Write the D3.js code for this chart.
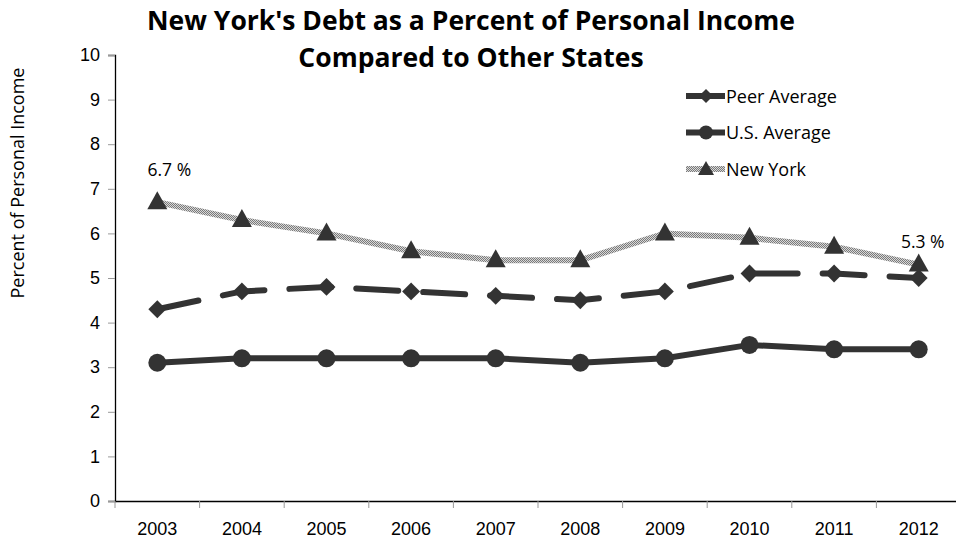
<!DOCTYPE html>
<meta charset="utf-8" />
<script src="https://d3js.org/d3.v7.min.js"></script>
<style>
  body { margin: 0; background: #fff; }
  svg { font-family: "Open Sans", Lato, sans-serif; }
</style>
<body>
  <div id="chart"></div>
  <script>
    // data
    var years = ["2003", "2004", "2005", "2006", "2007", "2008", "2009", "2010", "2011", "2012"];
    var peerAverage = [4.3, 4.7, 4.8, 4.7, 4.6, 4.5, 4.7, 5.1, 5.1, 5.0];
    var usAverage = [3.1, 3.2, 3.2, 3.2, 3.2, 3.1, 3.2, 3.5, 3.4, 3.4];
    var newYork = [6.7, 6.3, 6.0, 5.6, 5.4, 5.4, 6.0, 5.9, 5.7, 5.3];
    var yTicks = [0, 1, 2, 3, 4, 5, 6, 7, 8, 9, 10];

    var width = 956, height = 540;
    var margin = { top: 55, right: -5, bottom: 39, left: 115 };
    var innerW = width - margin.left - margin.right;
    var innerH = height - margin.top - margin.bottom;
    var dark = "#333";

    var svg = d3.select("#chart").append("svg")
      .attr("width", width)
      .attr("height", height);

    // checkered fill for the New York line
    var defs = svg.append("defs");
    var pat = defs.append("pattern")
      .attr("id", "checks")
      .attr("patternUnits", "userSpaceOnUse")
      .attr("width", 2).attr("height", 2);
    pat.append("rect").attr("width", 2).attr("height", 2).attr("fill", "#d8d8d8");
    pat.append("rect").attr("width", 1).attr("height", 1).attr("fill", "#7a7a7a");
    pat.append("rect").attr("x", 1).attr("y", 1).attr("width", 1).attr("height", 1).attr("fill", "#7a7a7a");

    var g = svg.append("g")
      .attr("transform", "translate(" + margin.left + "," + margin.top + ")");

    var x = d3.scaleBand().domain(years).range([0, innerW]);
    var y = d3.scaleLinear().domain([0, 10]).range([innerH, 0]);
    var cx = function (d, i) { return x(years[i]) + x.bandwidth() / 2; };

    // y axis
    var yAxis = g.append("g")
      .call(d3.axisLeft(y).tickValues(yTicks).tickSize(7).tickPadding(8).tickFormat(d3.format("d")));
    yAxis.select(".domain").attr("stroke", "#000").attr("stroke-width", 1.3);
    yAxis.selectAll(".tick line").attr("stroke", "#999");
    yAxis.selectAll(".tick text").attr("font-size", 18).attr("fill", "#000");

    // x axis
    var xAxis = g.append("g")
      .attr("transform", "translate(0," + innerH + ")")
      .call(d3.axisBottom(x).tickSize(0).tickPadding(21));
    xAxis.select(".domain").attr("stroke", "#000").attr("stroke-width", 1.3);
    xAxis.selectAll(".tick text").attr("font-size", 18).attr("fill", "#000");
    xAxis.selectAll(".sep")
      .data(years)
      .enter().append("line")
      .attr("x1", function (d) { return x(d); })
      .attr("x2", function (d) { return x(d); })
      .attr("y1", 0).attr("y2", 7)
      .attr("stroke", "#999");

    var line = d3.line()
      .x(cx)
      .y(function (d) { return y(d); });

    // New York
    g.append("path")
      .datum(newYork)
      .attr("d", line)
      .attr("fill", "none")
      .attr("stroke", "url(#checks)")
      .attr("stroke-width", 6);

    // Peer average
    g.append("path")
      .datum(peerAverage)
      .attr("d", line)
      .attr("fill", "none")
      .attr("stroke", dark)
      .attr("stroke-width", 6)
      .attr("stroke-linecap", "round")
      .attr("stroke-dasharray", "42,25");

    // U.S. average
    g.append("path")
      .datum(usAverage)
      .attr("d", line)
      .attr("fill", "none")
      .attr("stroke", dark)
      .attr("stroke-width", 6);

    var diamond = d3.symbol().type(d3.symbolSquare).size(160);
    var circle = d3.symbol().type(d3.symbolCircle).size(Math.PI * 81);
    var triangle = function () {
      return "M0,-11L10,7L-10,7Z";
    };

    g.selectAll(".peer")
      .data(peerAverage)
      .enter().append("path")
      .attr("d", diamond())
      .attr("transform", function (d, i) { return "translate(" + cx(d, i) + "," + y(d) + ") rotate(45)"; })
      .attr("fill", dark);

    g.selectAll(".us")
      .data(usAverage)
      .enter().append("path")
      .attr("d", circle())
      .attr("transform", function (d, i) { return "translate(" + cx(d, i) + "," + y(d) + ")"; })
      .attr("fill", dark);

    g.selectAll(".ny")
      .data(newYork)
      .enter().append("path")
      .attr("d", triangle())
      .attr("transform", function (d, i) { return "translate(" + cx(d, i) + "," + y(d) + ")"; })
      .attr("fill", dark);

    // labels on first and last New York points
    var last = newYork.length - 1;
    g.append("text")
      .attr("x", cx(newYork[0], 0) + 12)
      .attr("y", y(newYork[0]) - 26)
      .attr("text-anchor", "middle")
      .attr("font-size", 17.5)
      .text(newYork[0].toFixed(1) + " %");
    g.append("text")
      .attr("x", cx(newYork[last], last) + 4)
      .attr("y", y(newYork[last]) - 17)
      .attr("text-anchor", "middle")
      .attr("font-size", 17.5)
      .text(newYork[last].toFixed(1) + " %");

    // legend
    var legend = [
      { name: "Peer Average", type: "peer" },
      { name: "U.S. Average", type: "us" },
      { name: "New York", type: "ny" }
    ];
    var lg = svg.append("g").attr("transform", "translate(686,96)");
    var rows = lg.selectAll("g").data(legend).enter().append("g")
      .attr("transform", function (d, i) { return "translate(0," + i * 36.5 + ")"; });
    rows.append("line")
      .attr("x1", 0).attr("x2", 39).attr("y1", 0).attr("y2", 0)
      .attr("stroke", function (d) { return d.type === "ny" ? "url(#checks)" : dark; })
      .attr("stroke-width", 6);
    rows.append("path")
      .attr("d", function (d) {
        if (d.type === "peer") return d3.symbol().type(d3.symbolSquare).size(100)();
        if (d.type === "us") return d3.symbol().type(d3.symbolCircle).size(Math.PI * 49)();
        return "M0,-8L8,6L-8,6Z";
      })
      .attr("transform", function (d) { return "translate(20,0)" + (d.type === "peer" ? " rotate(45)" : ""); })
      .attr("fill", dark);
    rows.append("text")
      .attr("x", 40).attr("y", 6.5)
      .attr("font-size", 18)
      .text(function (d) { return d.name; });

    // axis title
    svg.append("text")
      .attr("transform", "translate(24,183) rotate(-90)")
      .attr("text-anchor", "middle")
      .attr("font-size", 18)
      .text("Percent of Personal Income");

    // chart title
    var title = svg.append("text")
      .attr("text-anchor", "middle")
      .attr("font-size", 26.5)
      .attr("font-weight", "bold");
    title.append("tspan").attr("x", 471).attr("y", 30).text("New York's Debt as a Percent of Personal Income");
    title.append("tspan").attr("x", 471).attr("y", 67).text("Compared to Other States");
  </script>
</body>
